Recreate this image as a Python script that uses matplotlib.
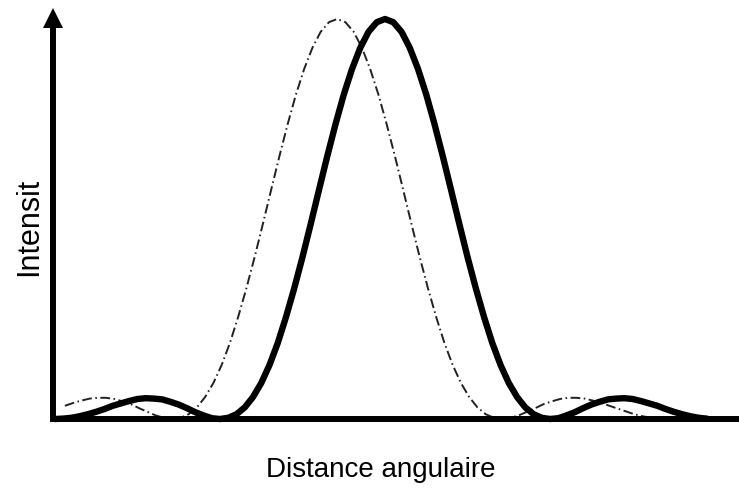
import matplotlib
matplotlib.use("Agg")
import matplotlib.pyplot as plt
import matplotlib.transforms as mtransforms

plt.rcParams['font.family'] = ['Liberation Sans', 'DejaVu Sans']

# angular distance (one unit = spacing between main-lobe peak and first zero)
angle_solid = [
    -2.00, -1.95, -1.90, -1.85, -1.80, -1.75, -1.70, -1.65, -1.60, -1.55,
    -1.50, -1.45, -1.40, -1.35, -1.30, -1.25, -1.20, -1.15, -1.10, -1.05,
    -1.00, -0.95, -0.90, -0.85, -0.80, -0.75, -0.70, -0.65, -0.60, -0.55,
    -0.50, -0.45, -0.40, -0.35, -0.30, -0.25, -0.20, -0.15, -0.10, -0.05,
    0.00, 0.05, 0.10, 0.15, 0.20, 0.25, 0.30, 0.35, 0.40, 0.45,
    0.50, 0.55, 0.60, 0.65, 0.70, 0.75, 0.80, 0.85, 0.90, 0.95,
    1.00, 1.05, 1.10, 1.15, 1.20, 1.25, 1.30, 1.35, 1.40, 1.45,
    1.50, 1.55, 1.60, 1.65, 1.70, 1.75, 1.80, 1.85, 1.90, 1.95,
]
intensity_solid = [
    0.000, 0.001, 0.003, 0.007, 0.012, 0.018, 0.025, 0.033, 0.039, 0.045,
    0.050, 0.052, 0.051, 0.049, 0.043, 0.036, 0.027, 0.017, 0.009, 0.002,
    0.000, 0.003, 0.012, 0.029, 0.055, 0.090, 0.135, 0.190, 0.255, 0.327,
    0.405, 0.488, 0.573, 0.657, 0.737, 0.811, 0.875, 0.928, 0.968, 0.992,
    1.000, 0.992, 0.968, 0.928, 0.875, 0.811, 0.737, 0.657, 0.573, 0.488,
    0.405, 0.327, 0.255, 0.190, 0.135, 0.090, 0.055, 0.029, 0.012, 0.003,
    0.000, 0.002, 0.009, 0.017, 0.027, 0.036, 0.043, 0.049, 0.051, 0.052,
    0.050, 0.045, 0.039, 0.033, 0.025, 0.018, 0.012, 0.007, 0.003, 0.001,
]

angle_dash = [
    -1.94, -1.89, -1.84, -1.79, -1.74, -1.69, -1.64, -1.59, -1.54, -1.49,
    -1.44, -1.39, -1.34, -1.29, -1.24, -1.19, -1.14, -1.09, -1.04, -0.99,
    -0.94, -0.89, -0.84, -0.79, -0.74, -0.69, -0.64, -0.59, -0.54, -0.49,
    -0.44, -0.39, -0.34, -0.29, -0.24, -0.19, -0.14, -0.09, -0.04, 0.01,
    0.06, 0.11, 0.16, 0.21, 0.26, 0.31, 0.36, 0.41, 0.46, 0.51,
    0.56, 0.61, 0.66, 0.71, 0.76, 0.81, 0.86, 0.91, 0.96, 1.01,
    1.06, 1.11, 1.16, 1.21, 1.26, 1.31, 1.36, 1.41, 1.46, 1.51,
    1.56, 1.61, 1.66, 1.71, 1.76, 1.81, 1.86, 1.91,
]
intensity_dash = [
    0.033, 0.040, 0.046, 0.051, 0.053, 0.053, 0.050, 0.044, 0.037, 0.027,
    0.018, 0.009, 0.003, 0.000, 0.003, 0.012, 0.029, 0.055, 0.090, 0.135,
    0.190, 0.255, 0.327, 0.405, 0.488, 0.573, 0.657, 0.737, 0.811, 0.875,
    0.928, 0.968, 0.992, 1.000, 0.992, 0.968, 0.928, 0.875, 0.811, 0.737,
    0.657, 0.573, 0.488, 0.405, 0.327, 0.255, 0.190, 0.135, 0.090, 0.055,
    0.029, 0.012, 0.003, 0.000, 0.003, 0.009, 0.018, 0.027, 0.037, 0.044,
    0.050, 0.053, 0.053, 0.051, 0.046, 0.040, 0.033, 0.026, 0.019, 0.012,
    0.007, 0.003, 0.001, 0.000, 0.001, 0.002, 0.005, 0.008,
]

W, H = 739, 489
fig = plt.figure(figsize=(W / 100, H / 100), dpi=100)
ax = fig.add_axes([52.5 / W, (H - 420) / H, 1 - 52.5 / W, (420 - 28) / H])

ax.plot(angle_dash, intensity_dash, color='#222222', lw=1.4,
        linestyle=(0, (5, 1.8, 0.8, 1.8)), clip_on=False)
ax.plot(angle_solid, intensity_solid, color='black', lw=4.6,
        solid_capstyle='round', solid_joinstyle='round', clip_on=False)

ax.set_xlim(-2.015, 2.145)
ax.set_ylim(0, 0.98)
ax.set_xticks([])
ax.set_yticks([])
for side in ['top', 'right']:
    ax.spines[side].set_visible(False)
for side in ['left', 'bottom']:
    ax.spines[side].set_linewidth(4.3)
    ax.spines[side].set_capstyle('projecting')

# arrow head on top of the intensity axis
offset = mtransforms.ScaledTranslation(0, 9.5 / 100, fig.dpi_scale_trans)
ax.plot([0], [1], marker='^', markersize=13.7, color='black', mew=0,
        transform=ax.transAxes + offset, clip_on=False)

fig.text(381 / W, 1 - 477 / H, 'Distance angulaire', fontsize=20,
         ha='center', va='baseline')
fig.text(37 / W, 1 - 227 / H, 'Intensit', fontsize=22, rotation=90,
         rotation_mode='anchor', ha='center', va='baseline')

fig.savefig('out.png', dpi=100)
